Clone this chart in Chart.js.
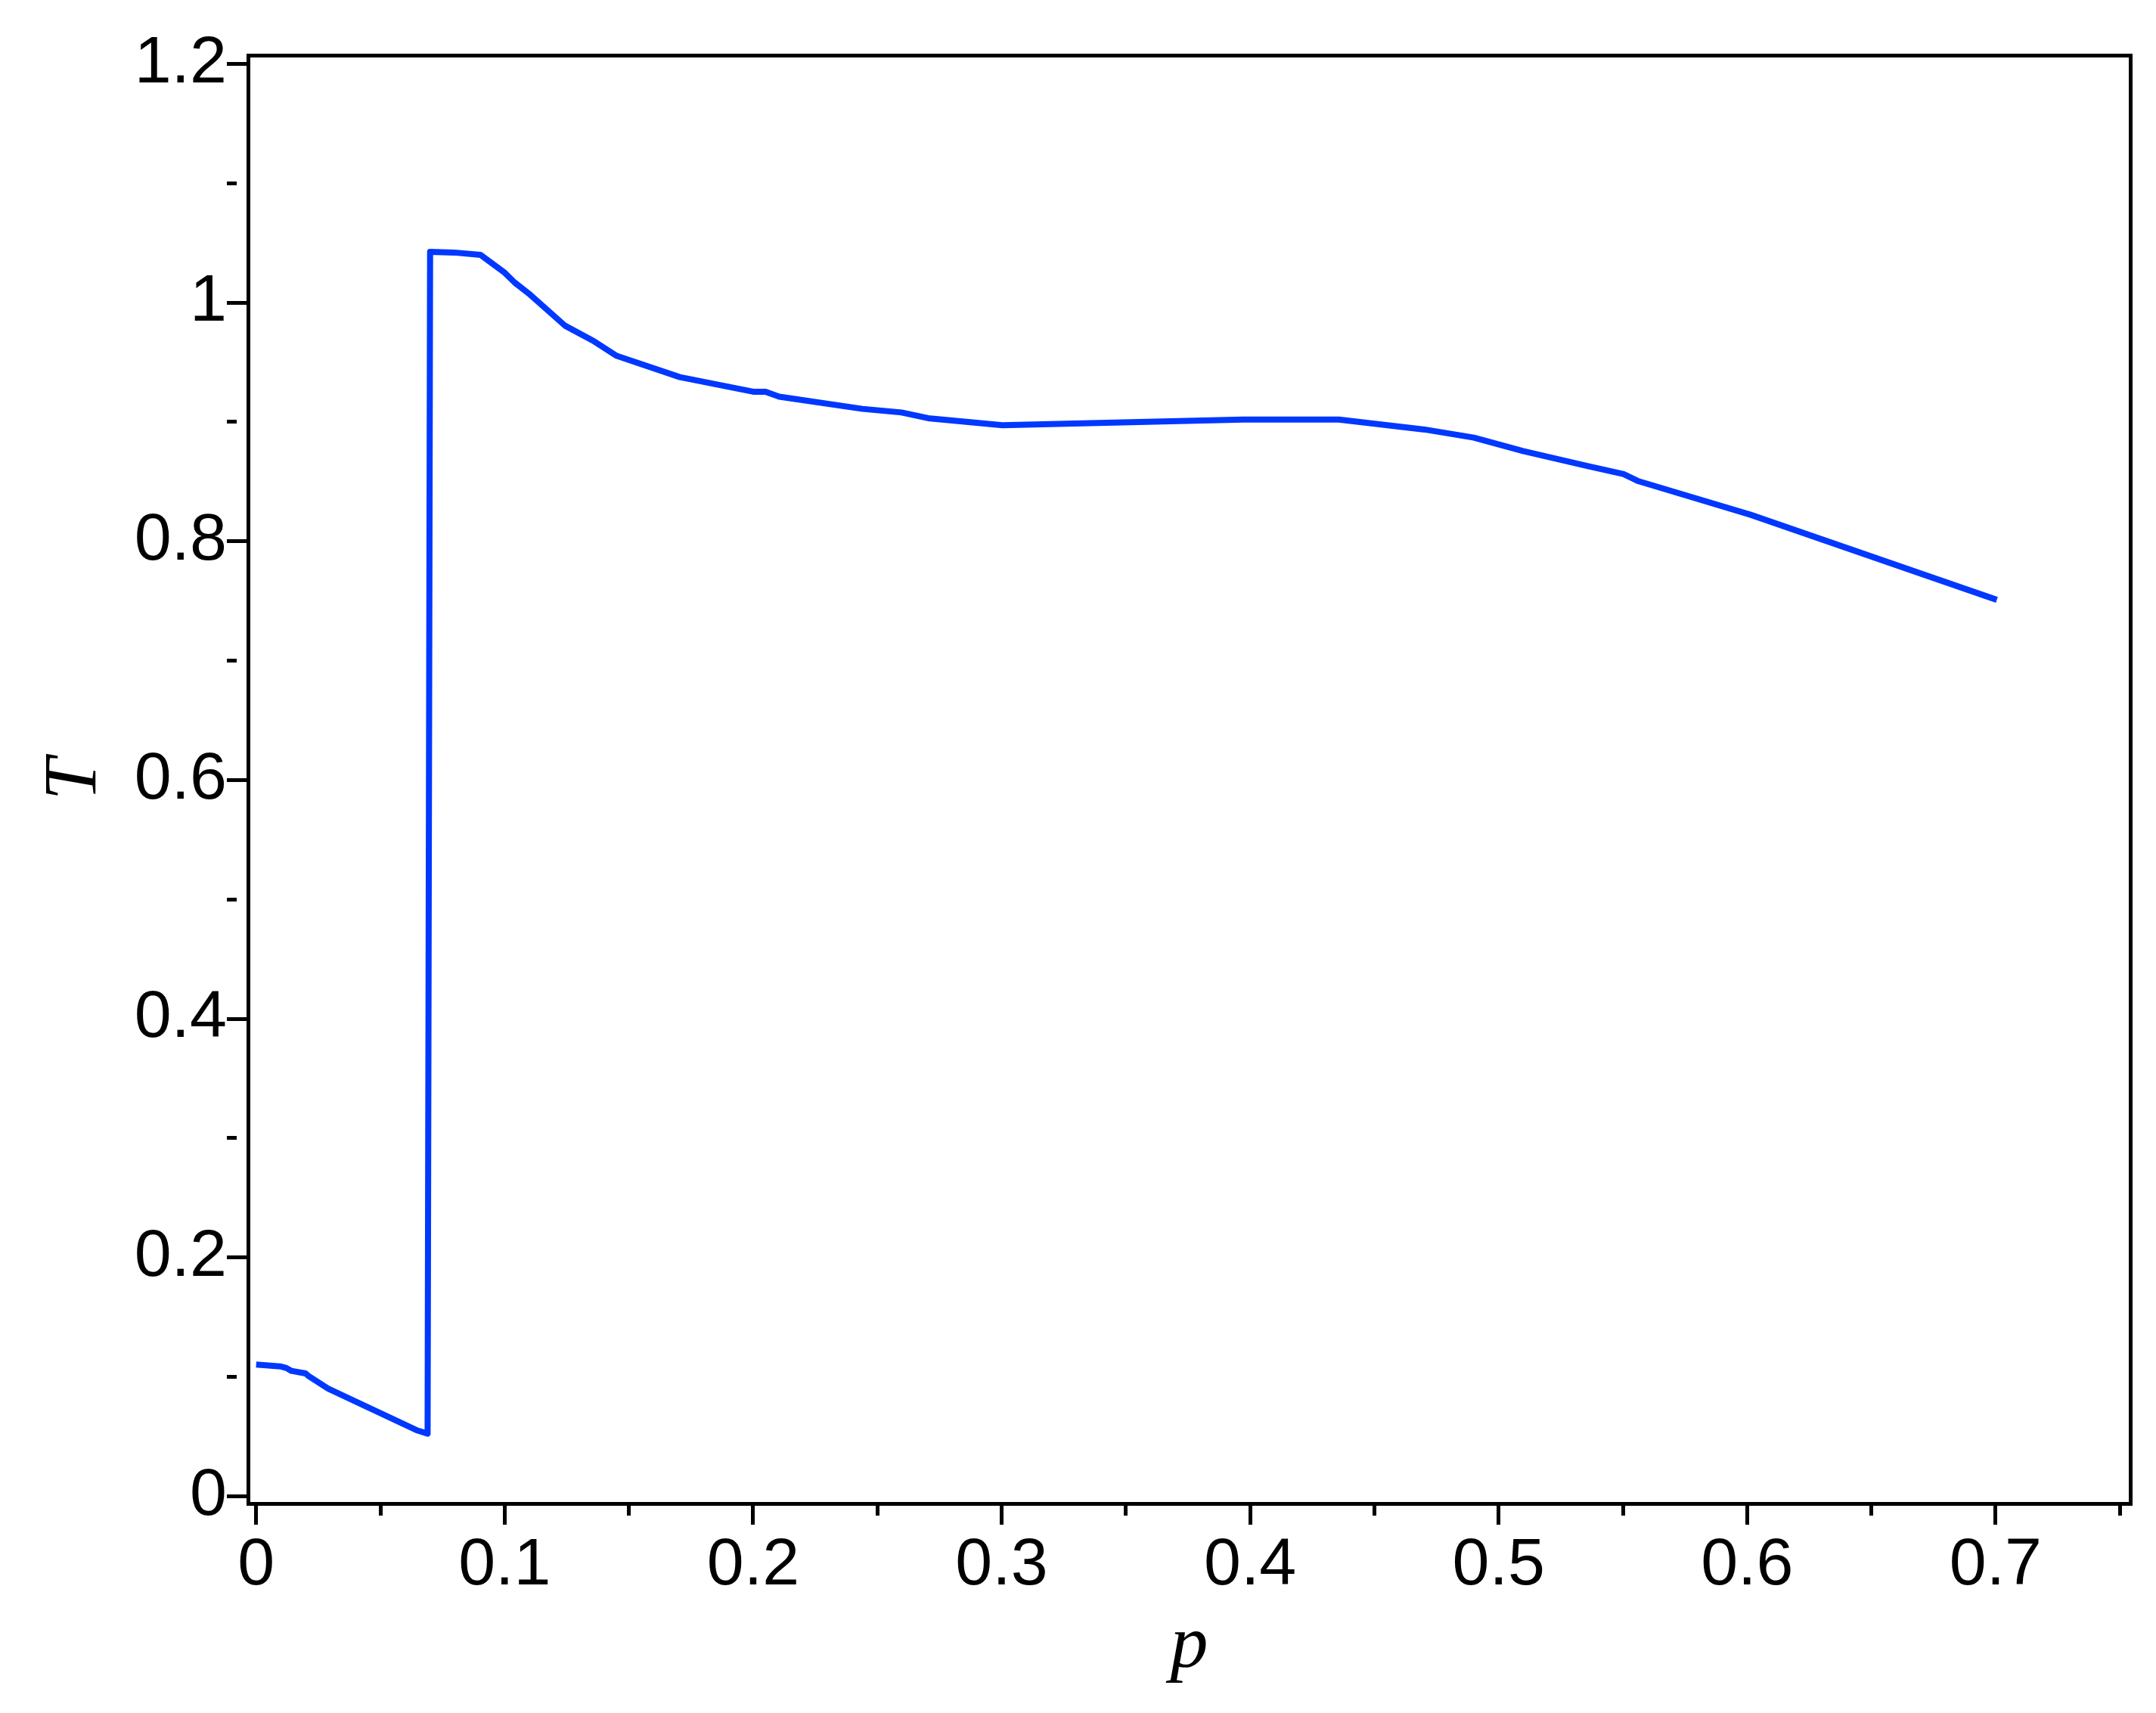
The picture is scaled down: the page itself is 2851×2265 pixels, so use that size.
<!DOCTYPE html>
<html>
<head>
<meta charset="utf-8">
<script src="https://cdn.jsdelivr.net/npm/chart.js@4/dist/chart.umd.min.js"></script>
<style>
  html, body { margin: 0; padding: 0; background: #fff; }
  canvas { display: block; }
</style>
</head>
<body>
<canvas id="plot" width="2851" height="2265" style="width:2851px;height:2265px"></canvas>
<script>
// curve: p along the bottom, T up the side
const pValues = [
  0, 0.0097, 0.0122, 0.0142, 0.0199, 0.0213, 0.029, 0.0645, 0.069,
  0.070, 0.0797, 0.0903, 0.100, 0.104, 0.1096, 0.1243, 0.136, 0.1451,
  0.1705, 0.200, 0.205, 0.2105, 0.244, 0.2597, 0.2704, 0.3003, 0.3972,
  0.4357, 0.4702, 0.490, 0.5098, 0.536, 0.5503, 0.5563, 0.6014, 0.7005
]
const tValues = [
  0.1103, 0.1088, 0.1074, 0.105, 0.1029, 0.1004, 0.0902, 0.0554, 0.0524,
  1.0426, 1.042, 1.040, 1.0251, 1.0169, 1.0078, 0.9807, 0.9676, 0.9554,
  0.9376, 0.9254, 0.9254, 0.9212, 0.911, 0.908, 0.9032, 0.8973, 0.9021,
  0.9021, 0.8937, 0.8869, 0.8757, 0.863, 0.8563, 0.8504, 0.8223, 0.751
]

const xTickValues = [0, 0.05, 0.1, 0.15, 0.2, 0.25, 0.3, 0.35, 0.4, 0.45, 0.5, 0.55, 0.6, 0.65, 0.7, 0.75]
const xTickLabels = ['0', '', '0.1', '', '0.2', '', '0.3', '', '0.4', '', '0.5', '', '0.6', '', '0.7', '']
const yTickValues = [0, 0.1, 0.2, 0.3, 0.4, 0.5, 0.6, 0.7, 0.8, 0.9, 1, 1.1, 1.2]
const yTickLabels = ['0', '', '0.2', '', '0.4', '', '0.6', '', '0.8', '', '1', '', '1.2']

const tickFont = { family: 'Liberation Sans', size: 88 }
const titleFont = { family: 'Liberation Serif', size: 100, style: 'italic' }
const minorDash = labels => ctx => (labels[ctx.index] ? [] : [13, 200])

const frameAxis = (position) => ({
  type: 'linear',
  position,
  ticks: { display: false },
  grid: { display: true, drawTicks: false, drawOnChartArea: false },
  border: { display: true, color: '#000', width: 5 },
  afterFit: s => { if (position === 'top') s.height = 0; else s.width = 0 },
})

new Chart(document.getElementById('plot'), {
  type: 'line',
  data: {
    datasets: [{
      data: pValues.map((p, i) => ({ x: p, y: tValues[i] })),
      borderColor: 'rgb(0, 56, 255)',
      borderWidth: 8,
      pointRadius: 0,
      tension: 0,
      borderJoinStyle: 'round',
      borderCapStyle: 'butt',
    }],
  },
  options: {
    responsive: false,
    animation: false,
    devicePixelRatio: 1,
    layout: { padding: { top: 73, right: 34, left: 0, bottom: 0 } },
    plugins: { legend: { display: false }, tooltip: { enabled: false } },
    scales: {
      x: {
        type: 'linear',
        position: 'bottom',
        min: -0.00326,
        max: 0.7542,
        afterBuildTicks: s => { s.ticks = xTickValues.map(v => ({ value: v })) },
        afterFit: s => { s.height = 277 },
        ticks: {
          color: '#000', font: tickFont, padding: 2, maxRotation: 0, autoSkip: false,
          callback: (v, i) => xTickLabels[i],
        },
        grid: {
          drawOnChartArea: false, lineWidth: 5, tickLength: 28, tickWidth: 5, tickColor: '#000',
          tickBorderDash: minorDash(xTickLabels),
        },
        border: { display: true, color: '#000', width: 5 },
        title: { display: true, text: 'p', color: '#000', font: titleFont, padding: { top: 0, bottom: 27 } },
      },
      y: {
        type: 'linear',
        position: 'left',
        min: -0.0061,
        max: 1.2073,
        afterBuildTicks: s => { s.ticks = yTickValues.map(v => ({ value: v })) },
        afterFit: s => { s.width = 328 },
        ticks: {
          color: '#000', font: tickFont, padding: 0, autoSkip: false,
          callback: (v, i) => yTickLabels[i],
        },
        grid: {
          drawOnChartArea: false, lineWidth: 5, tickLength: 28, tickWidth: 5, tickColor: '#000',
          tickBorderDash: minorDash(yTickLabels),
        },
        border: { display: true, color: '#000', width: 5 },
        title: { display: true, text: 'T', color: '#000', font: titleFont, padding: { top: 40, bottom: 0 } },
      },
      xTop: frameAxis('top'),
      yRight: frameAxis('right'),
    },
  },
})
</script>
</body>
</html>
